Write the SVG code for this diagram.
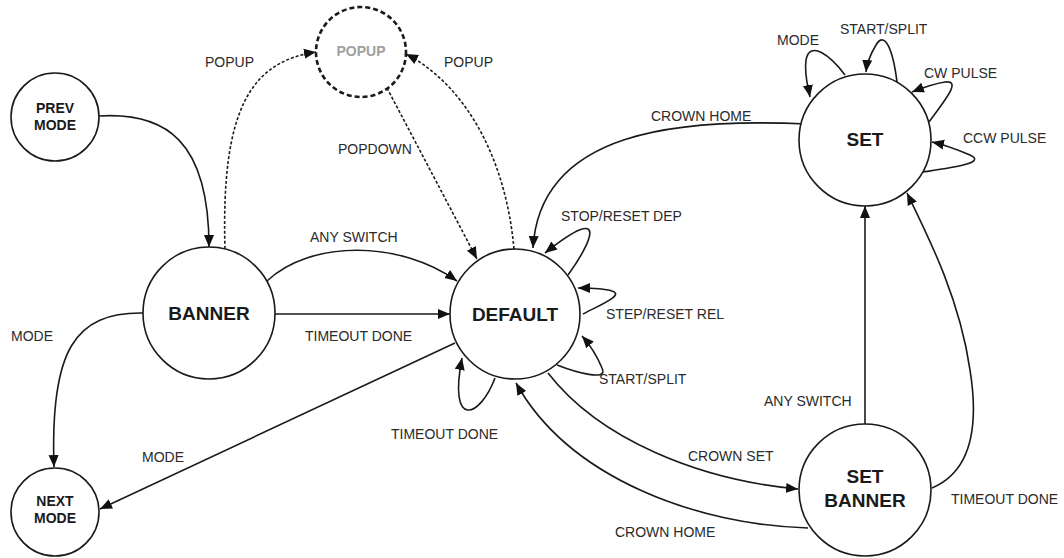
<svg xmlns="http://www.w3.org/2000/svg" width="1064" height="558" viewBox="0 0 1064 558">
<style>
.bg{fill:#ffffff}
.node{fill:#ffffff;stroke:#1a1a1a;stroke-width:1.6}
.dnode{fill:#ffffff;stroke:#1a1a1a;stroke-width:2.6;stroke-dasharray:5,3}
.big{font-family:"Liberation Sans",Arial,sans-serif;font-size:19px;font-weight:bold;fill:#1a1a1a;text-anchor:middle}
.small{font-family:"Liberation Sans",Arial,sans-serif;font-size:14px;font-weight:bold;fill:#1a1a1a;text-anchor:middle}
.grey{fill:#a0a0a0}
.lbl{font-family:"Liberation Sans",Arial,sans-serif;font-size:14px;fill:#2a2a2a}
.e{fill:none;stroke:#1a1a1a;stroke-width:1.6;marker-end:url(#arr)}
.d{fill:none;stroke:#1a1a1a;stroke-width:1.6;stroke-dasharray:3,2;marker-end:url(#arr)}
</style>
<defs>
<marker id="arr" viewBox="0 0 10 10" refX="10" refY="5" markerWidth="12" markerHeight="12" markerUnits="userSpaceOnUse" orient="auto">
<path d="M0,0.8 L10,5 L0,9.2 z" fill="#111111"/>
</marker>
</defs>
<rect class="bg" x="0" y="0" width="1064" height="558"/>

<g id="connectors">
<path class="e" d="M99,116 C165,112 209,140 209,247"/>
<path class="d" d="M225,249 C221,110 250,62 316,52"/>
<path class="d" d="M514,249 C505,150 460,82 406,54"/>
<path class="d" d="M387,88 L477,259"/>
<path class="e" d="M267,281 C310,240 400,240 457,281"/>
<path class="e" d="M274,314 L450,314"/>
<path class="e" d="M143,313 C75,312 50,350 54,467"/>
<path class="e" d="M455,343 L100,509"/>
<path class="e" d="M495,378 C480,418 448,430 462,358"/>
<path class="e" d="M568,275 C590,245 612,200 545,253"/>
<path class="e" d="M583,314 C600,305 625,295 612,291 C603,288 592,288 578,288"/>
<path class="e" d="M557,365 C575,372 609,382 602,368 C597,356 591,346 582,336"/>
<path class="e" d="M807,124 C680,118 540,130 533,248"/>
<path class="e" d="M548,373 C600,440 700,480 798,489"/>
<path class="e" d="M808,528 C700,525 570,480 516,383"/>
<path class="e" d="M865,424 L865,206"/>
<path class="e" d="M932,488 C975,470 978,420 970,370 C960,300 930,240 907,193"/>
<path class="e" d="M845,75 C830,55 810,40 806,60 C804,75 808,86 810,97"/>
<path class="e" d="M897,82 C893,50 885,30 876,45 C870,55 867,62 866,72"/>
<path class="e" d="M929,122 C945,100 962,80 945,82 C932,84 922,88 912,92"/>
<path class="e" d="M923,172 C950,168 988,163 970,155 C956,149 945,145 932,142"/>
</g>

<g id="labels">
<text class="lbl" x="205" y="67">POPUP</text>
<text class="lbl" x="444" y="67">POPUP</text>
<text class="lbl" x="338" y="154">POPDOWN</text>
<text class="lbl" x="310" y="242">ANY SWITCH</text>
<text class="lbl" x="305" y="341">TIMEOUT DONE</text>
<text class="lbl" x="11" y="341">MODE</text>
<text class="lbl" x="142" y="462">MODE</text>
<text class="lbl" x="391" y="439">TIMEOUT DONE</text>
<text class="lbl" x="561" y="221">STOP/RESET DEP</text>
<text class="lbl" x="606" y="319">STEP/RESET REL</text>
<text class="lbl" x="599" y="384">START/SPLIT</text>
<text class="lbl" x="688" y="461">CROWN SET</text>
<text class="lbl" x="615" y="537">CROWN HOME</text>
<text class="lbl" x="651" y="121">CROWN HOME</text>
<text class="lbl" x="764" y="406">ANY SWITCH</text>
<text class="lbl" x="951" y="504">TIMEOUT DONE</text>
<text class="lbl" x="777" y="45">MODE</text>
<text class="lbl" x="840" y="34">START/SPLIT</text>
<text class="lbl" x="924" y="78">CW PULSE</text>
<text class="lbl" x="963" y="143">CCW PULSE</text>
</g>

<g id="node-prev-mode">
<circle class="node" cx="55" cy="117" r="44"/>
<text class="small" x="55" y="113">PREV</text>
<text class="small" x="55" y="130">MODE</text>
</g>
<g id="node-popup">
<circle class="dnode" cx="361" cy="52" r="45"/>
<text class="small grey" x="361" y="56">POPUP</text>
</g>
<g id="node-banner">
<circle class="node" cx="209" cy="313" r="66"/>
<text class="big" x="209" y="320">BANNER</text>
</g>
<g id="node-default">
<circle class="node" cx="515" cy="314" r="65"/>
<text class="big" x="515" y="321">DEFAULT</text>
</g>
<g id="node-set">
<circle class="node" cx="865" cy="140" r="66"/>
<text class="big" x="865" y="146">SET</text>
</g>
<g id="node-set-banner">
<circle class="node" cx="865" cy="490" r="66"/>
<text class="big" x="865" y="483">SET</text>
<text class="big" x="865" y="507">BANNER</text>
</g>
<g id="node-next-mode">
<circle class="node" cx="55" cy="512" r="44"/>
<text class="small" x="55" y="506">NEXT</text>
<text class="small" x="55" y="523">MODE</text>
</g>
</svg>
